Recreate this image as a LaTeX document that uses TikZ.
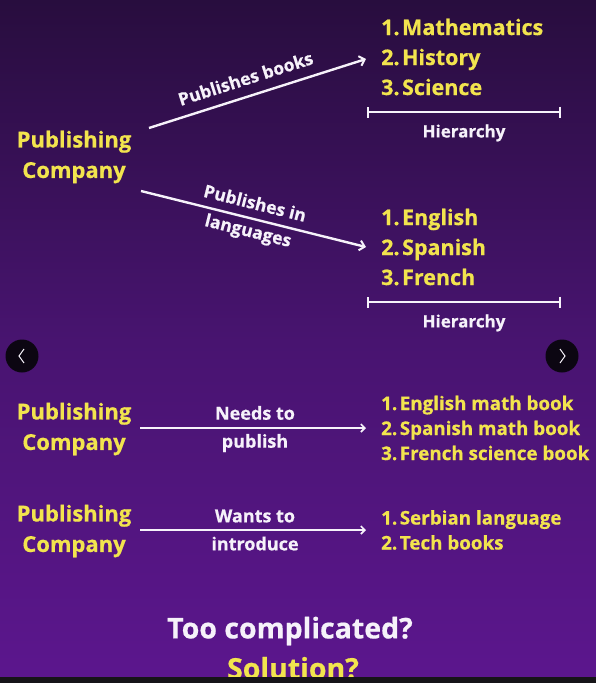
\documentclass[tikz,border=0pt]{standalone}
\usepackage{fontspec}
\setmainfont{Open Sans}[BoldFont={* Bold}, BoldFeatures={FakeBold=0.6}]
\usetikzlibrary{arrows.meta}
\definecolor{bgtop}{RGB}{40,13,62}
\definecolor{bgmid}{RGB}{72,20,112}
\definecolor{bgbot}{RGB}{92,22,142}
\definecolor{yel}{RGB}{242,228,78}
\definecolor{wht}{RGB}{246,242,250}
\definecolor{navbg}{RGB}{12,6,18}
\definecolor{barblack}{RGB}{22,20,24}
\tikzset{
  yeltext/.style={text=yel, font=\bfseries\fontsize{22}{30.5}\selectfont, align=center, inner sep=0pt},
  listtext/.style={text=yel, font=\bfseries\fontsize{21.5}{30}\selectfont, align=left, inner sep=0pt, anchor=west},
  smalllist/.style={text=yel, font=\bfseries\fontsize{18.8}{25}\selectfont, align=left, inner sep=0pt, anchor=west},
  lbl/.style={text=wht, font=\bfseries\fontsize{18}{28}\selectfont, align=center, inner sep=0pt},
  slbl/.style={text=wht, font=\bfseries\fontsize{17.5}{28}\selectfont, align=center, inner sep=0pt},
  hier/.style={text=wht, font=\bfseries\fontsize{17}{20}\selectfont, inner sep=0pt},
  arr/.style={draw=wht, line width=2.4pt, -{Straight Barb[length=5pt,width=10pt,line width=2pt]}},
  harr/.style={draw=wht, line width=1.8pt, -{Straight Barb[length=4pt,width=8pt,line width=1.6pt]}},
  hbar/.style={draw=wht, line width=2.2pt, {Bar[width=11pt,line width=2pt]}-{Bar[width=11pt,line width=2pt]}},
  nav/.style={fill=navbg, draw=none, circle, minimum size=33pt, inner sep=0pt},
  chev/.style={draw=wht, line width=1pt}
}
\newcommand{\numgap}{\hspace{2.5pt}}
\begin{document}
\begin{tikzpicture}[x=1pt,y=-1pt]
\useasboundingbox (0,0) rectangle (596,683);
\shade[top color=bgtop, bottom color=bgbot, middle color=bgmid, draw=none] (0,0) rectangle (596,683);

% Section 1
\node[yeltext] (pc1) at (74,157) {Publishing\\Company};
\node[listtext] (list1) at (381,57) {1.\numgap Mathematics\\2.\numgap History\\3.\numgap Science};
\node[listtext] (list2) at (381,247) {1.\numgap English\\2.\numgap Spanish\\3.\numgap French};
\coordinate (a1s) at (149,128);
\coordinate (a1e) at (366,59);
\coordinate (a2s) at (141,191);
\coordinate (a2e) at (366,247);
\draw[arr] (a1s) -- node[slbl, sloped, pos=0.47, above=10pt] (l1) {Publishes books} (a1e);
\draw[arr] (a2s) -- node[slbl, sloped, pos=0.49] (l2) {Publishes in\\languages} (a2e);

\coordinate (b1l) at (367,112);
\coordinate (b1r) at (561,112);
\draw[hbar] (b1l) -- (b1r);
\node[hier] (h1) at (464,133) {Hierarchy};
\coordinate (b2l) at (367,302);
\coordinate (b2r) at (561,302);
\draw[hbar] (b2l) -- (b2r);
\node[hier] (h2) at (464,323) {Hierarchy};

% navigation buttons
\node[nav] (navl) at (22,356) {};
\draw[chev] ([shift={(2,-7)}]navl.center) -- ([shift={(-3,0)}]navl.center) -- ([shift={(2,7)}]navl.center);
\node[nav] (navr) at (562,356) {};
\draw[chev] ([shift={(-2,-7)}]navr.center) -- ([shift={(3,0)}]navr.center) -- ([shift={(-2,7)}]navr.center);

% Section 2
\node[yeltext] (pc3) at (74,429) {Publishing\\Company};
\node[smalllist] (list3) at (381,428) {1.\numgap English math book\\2.\numgap Spanish math book\\3.\numgap French science book};
\coordinate (a3s) at (140,428);
\coordinate (a3e) at (366,428);
\draw[harr] (a3s) -- (a3e);
\node[lbl] (l3) at (255,429) {Needs to\\publish};

\node[yeltext] (pc4) at (74,531) {Publishing\\Company};
\node[smalllist] (list4) at (381,530) {1.\numgap Serbian language\\2.\numgap Tech books};
\coordinate (a4s) at (140,530);
\coordinate (a4e) at (366,530);
\draw[harr] (a4s) -- (a4e);
\node[lbl] (l4) at (255,530) {Wants to\\introduce};

\node[text=wht, font=\bfseries\fontsize{28.5}{30}\selectfont, inner sep=0pt] (tc) at (290,631) {Too complicated?};
\node[text=yel, font=\bfseries\fontsize{28.5}{30}\selectfont, inner sep=0pt] (sol) at (293,668) {Solution?};
\fill[barblack] (0,677) rectangle (596,683);
\end{tikzpicture}
\end{document}
